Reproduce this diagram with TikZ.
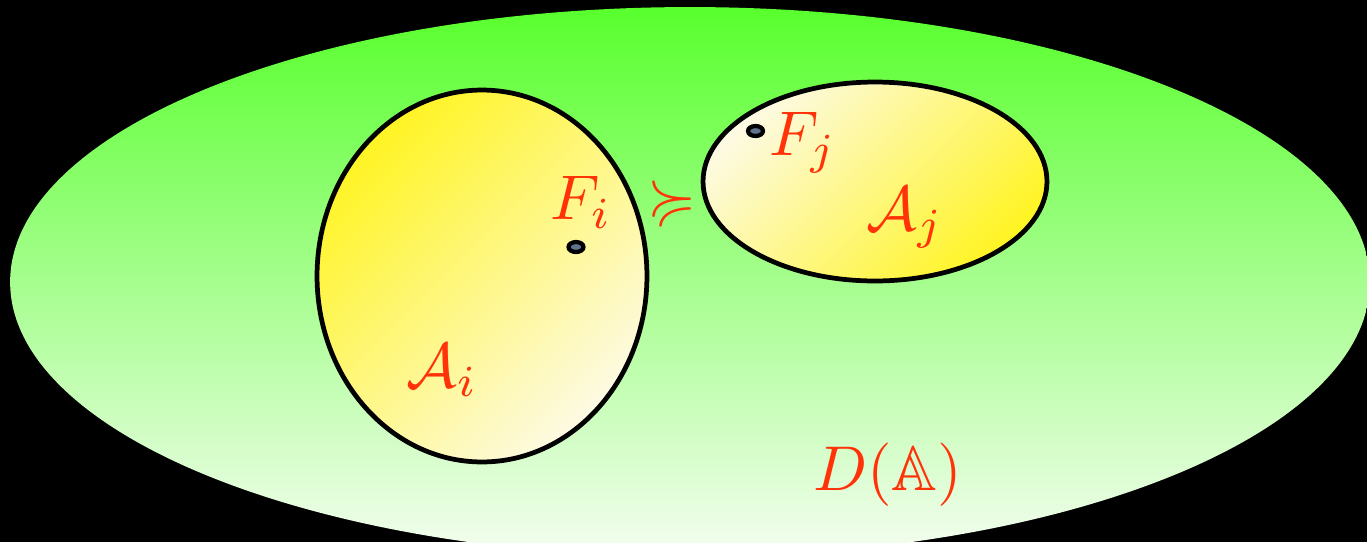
\documentclass[tikz,border=0pt]{standalone}
\usepackage{amssymb}
\usetikzlibrary{shapes.geometric}
\definecolor{lab}{RGB}{255,50,8}
\definecolor{gtop}{RGB}{88,255,45}
\definecolor{gbot}{RGB}{244,253,240}
\definecolor{ystrong}{RGB}{255,244,35}
\definecolor{ylight}{RGB}{253,250,228}
\definecolor{dotfill}{RGB}{95,115,140}
\tikzset{
  region/.style={ellipse, draw=black, line width=2.7pt, inner sep=0pt},
  lbl/.style={text=lab, inner sep=0pt, scale=3.6},
  pt/.style={ellipse, draw=black, line width=2.4pt, fill=dotfill, inner sep=0pt, minimum width=0.3cm, minimum height=0.2cm},
}
\begin{document}
\begin{tikzpicture}[x=0.02cm,y=-0.02cm]
\useasboundingbox (0,0) rectangle (1367,542);
\fill[black] (0,0) rectangle (1367,542);
\begin{scope}
\clip (0,0) rectangle (1367,542);
\node[ellipse, inner sep=0pt, minimum width=27.2cm, minimum height=11cm, top color=gtop, bottom color=gbot] (D) at (690,282) {};
\end{scope}
\node[region, minimum width=6.6cm, minimum height=7.44cm, top color=ystrong, bottom color=ylight, shading angle=45] (Ai) at (482,276) {};
\node[region, minimum width=6.88cm, minimum height=3.98cm, top color=ylight, bottom color=ystrong, shading angle=45] (Aj) at (875,181.5) {};
\node[pt] (fi) at (576,247) {};
\node[pt] (fj) at (755.5,131) {};
\node[lbl, anchor=base west] (Fi) at (549,219) {$F_i$};
\node[lbl] (succ) at (672,202) {$\succcurlyeq$};
\node[lbl, anchor=base west] (Fj) at (768,155) {$F_j$};
\node[lbl, anchor=base west] (Ajl) at (865,230) {$\mathcal{A}_j$};
\node[lbl, anchor=base west] (Ail) at (405,387) {$\mathcal{A}_i$};
\node[lbl, anchor=base west] (Dl) at (812,490) {$D(\mathbb{A})$};
\end{tikzpicture}
\end{document}
